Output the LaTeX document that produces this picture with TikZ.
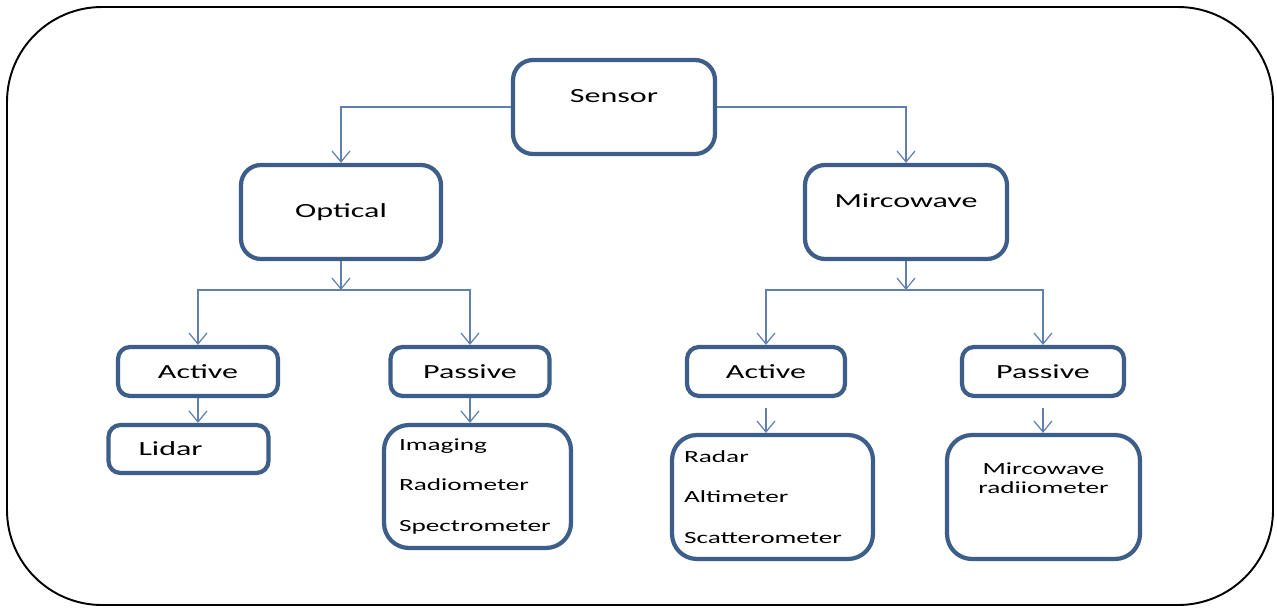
\documentclass[tikz,border=0pt]{standalone}
\usepackage{fontspec}
\setmainfont{Carlito}[FakeStretch=1.6]
\usetikzlibrary{arrows.meta}
\definecolor{boxblue}{RGB}{62,94,138}
\definecolor{lineblue}{RGB}{96,128,176}
\tikzset{
  box/.style={draw=boxblue, line width=2.4pt, rounded corners=0.4cm, fill=white,
    inner sep=0pt, font=\fontsize{11.4}{14}\selectfont},
  tag/.style={box, rounded corners=0.24cm},
  list/.style={box, rounded corners=0.5cm, align=left, font=\fontsize{9.7}{23}\selectfont},
  arr/.style={draw=lineblue, line width=0.7pt, -{Straight Barb[length=0.22cm,width=0.36cm]}},
}
\begin{document}
\begin{tikzpicture}[x=0.02cm,y=-0.02cm]
\useasboundingbox (0,0) rectangle (1277,608);
%\draw[step=50,gray,very thin] (0,0) grid (1277,608);
\draw[line width=1.1pt, rounded corners=1.9cm] (7,7) rectangle (1273,605);
% top levels
\node[box, minimum width=4.04cm, minimum height=1.88cm, text depth=0.45cm] (sensor) at (614,107) {Sensor};
\node[box, minimum width=4.0cm, minimum height=1.88cm] (optical) at (341,212) {Optical};
\node[box, minimum width=4.04cm, minimum height=1.88cm, text depth=0.45cm] (micro) at (906,212) {Mircowave};
\coordinate (optbar) at (341,290);
\coordinate (micbar) at (906,290);
% optical branch
\node[tag, minimum width=3.2cm, minimum height=0.98cm] (actopt) at (198,371.5) {Active};
\node[tag, minimum width=3.18cm, minimum height=0.98cm] (pasopt) at (470,371.5) {Passive};
\node[tag, text width=2.0cm, inner xsep=0.6cm, minimum height=0.96cm, align=left] (lidar) at (188.5,449) {Lidar};
\node[list, text width=3.14cm, inner xsep=0.3cm, minimum height=2.46cm] (imaging) at (477.5,486.5) {Imaging\\Radiometer\\Spectrometer};
% microwave branch
\node[tag, minimum width=3.16cm, minimum height=0.98cm] (actmic) at (766,371.5) {Active};
\node[tag, minimum width=3.24cm, minimum height=0.98cm] (pasmic) at (1043,371.5) {Passive};
\node[list, text width=3.54cm, inner xsep=0.24cm, minimum height=2.48cm] (radar) at (772.5,497) {Radar\\Altimeter\\Scatterometer};
\node[list, text width=3.3cm, inner xsep=0.28cm, minimum height=2.48cm, align=center,
  font=\fontsize{9.7}{11}\selectfont] (mradio) at (1043.5,497) {Mircowave\\radiiometer\\[10.6pt]\mbox{}};
% connectors
\draw[arr] (sensor.west) -| (optical.north);
\draw[arr] (sensor.east) -| (micro.north);
\draw[arr] (optical) -- (optbar);
\draw[arr] (micro) -- (micbar);
\draw[arr] (optbar) -| (actopt.north);
\draw[arr] (optbar) -| (pasopt.north);
\draw[arr] (micbar) -| (actmic.north);
\draw[arr] (micbar) -| (pasmic.north);
\draw[arr] (actopt.south) -- (actopt.south |- lidar.north);
\draw[arr] (pasopt.south) -- (pasopt.south |- imaging.north);
\draw[arr, shorten <=0.2cm] (actmic.south) -- (actmic.south |- radar.north);
\draw[arr, shorten <=0.2cm] (pasmic.south) -- (pasmic.south |- mradio.north);
\end{tikzpicture}
\end{document}
